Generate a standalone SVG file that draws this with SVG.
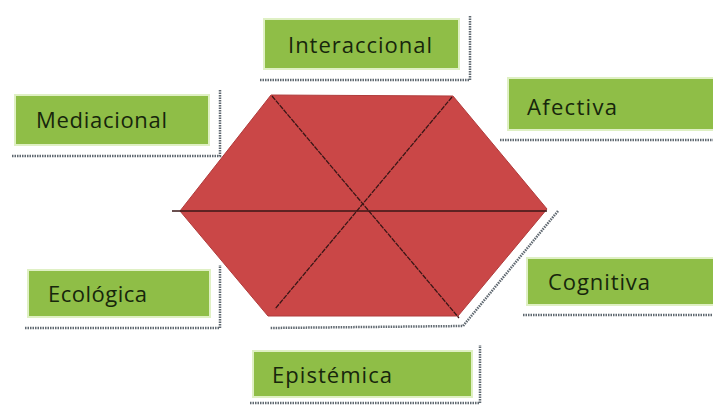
<svg xmlns="http://www.w3.org/2000/svg" width="713" height="406" viewBox="0 0 713 406">
<style>
.box{fill:#8fbe47;stroke:#dff0c4;stroke-width:2}
.sh{fill:none;stroke:#5f6870;stroke-width:2.5;stroke-dasharray:1.5 1}
.lbl{font-family:"Open Sans","Liberation Sans","DejaVu Sans",sans-serif;font-size:22px;fill:#17260c}
.hex{fill:#ca4747;stroke:#b03c3c;stroke-width:1}
.ln{stroke:#3a1616;stroke-width:1.3;fill:none}
</style>
<rect width="713" height="406" fill="#ffffff"/>
<g id="hexagon">
<polyline class="sh" points="558,211 463,326 270,328"/>
<polygon class="hex" points="271,95 453,96 547,209 458,316 268,316 180,211"/>
</g>
<g id="connectors">
<line class="ln" x1="172" y1="211" x2="547" y2="211" stroke-width="2.2"/>
<line class="ln" x1="272" y1="96" x2="459" y2="318" stroke-dasharray="5 1"/>
<line class="ln" x1="452" y1="97" x2="275" y2="309" stroke-dasharray="5 1"/>
</g>
<g id="interaccional">
<polyline class="sh" points="260,80 470,80 470,15"/>
<rect class="box" x="264" y="19" width="195" height="50"/>
<text class="lbl" x="288" y="53" textLength="144" lengthAdjust="spacing">Interaccional</text>
</g>
<g id="mediacional">
<polyline class="sh" points="12,156 220,156 220,90"/>
<rect class="box" x="15" y="95" width="194" height="50"/>
<text class="lbl" x="36" y="128" textLength="131" lengthAdjust="spacing">Mediacional</text>
</g>
<g id="afectiva">
<polyline class="sh" points="500,140 713,140"/>
<rect class="box" x="508" y="78" width="210" height="52"/>
<text class="lbl" x="527" y="115" textLength="90" lengthAdjust="spacing">Afectiva</text>
</g>
<g id="ecologica">
<polyline class="sh" points="25,328 220,328 220,265"/>
<rect class="box" x="28" y="270" width="182" height="47"/>
<text class="lbl" x="48" y="302" textLength="99" lengthAdjust="spacing">Ecológica</text>
</g>
<g id="cognitiva">
<polyline class="sh" points="523,315 713,315"/>
<rect class="box" x="527" y="258" width="190" height="47"/>
<text class="lbl" x="548" y="290" textLength="102" lengthAdjust="spacing">Cognitiva</text>
</g>
<g id="epistemica">
<polyline class="sh" points="250,403 480,403 480,345"/>
<rect class="box" x="253" y="351" width="219" height="46"/>
<text class="lbl" x="272" y="383" textLength="120" lengthAdjust="spacing">Epistémica</text>
</g>
</svg>
